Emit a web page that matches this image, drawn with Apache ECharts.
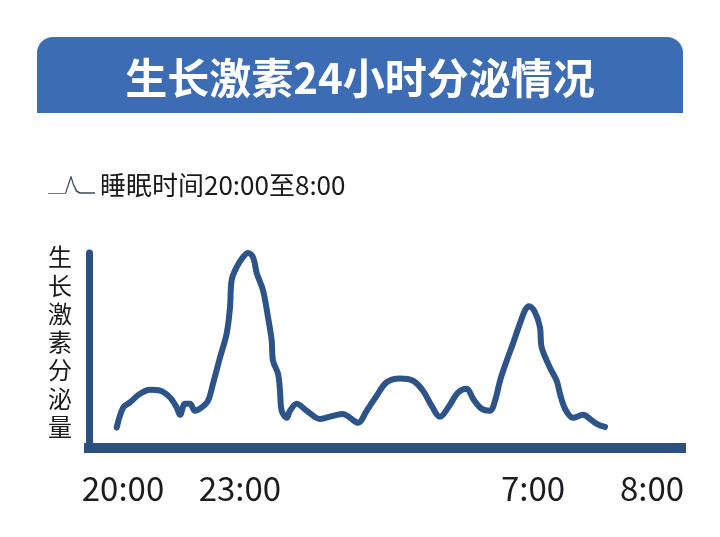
<!DOCTYPE html>
<html>
<head>
<meta charset="utf-8">
<script src="https://cdn.jsdelivr.net/npm/echarts@6/dist/echarts.min.js"></script>
<style>html,body{margin:0;padding:0;background:#fff}#c{width:720px;height:537px}</style>
</head>
<body>
<div id="c"></div>
<script>
// Position along the night (0-100 of axis length) and relative secretion level (0-100)
var xPos = [4.68,5.79,6.93,8.61,10.30,11.99,13.68,14.81,15.37,16.22,17.06,17.91,19.04,20.10,20.95,22.13,23.26,23.82,24.10,24.95,26.01,26.86,27.70,28.33,29.39,30.24,30.86,31.08,31.93,32.26,32.55,33.40,33.95,35.08,36.77,39.02,41.22,42.91,44.09,45.44,46.91,48.60,50.29,52.53,54.73,56.42,57.89,59.29,60.64,62.33,63.80,64.86,66.33,67.74,68.58,69.43,70.56,71.62,72.80,73.65,74.32,75.34,76.18,76.47,77.87,79.00,79.56,80.41,81.76,83.45,84.63,85.76,87.16];
var level = [10.5,20.8,23.4,27.8,29.9,29.4,25.9,20.8,17.0,22.7,22.7,19.1,20.8,24.2,33.0,46.4,58.8,72.2,86.1,92.8,97.9,100,97.9,89.7,80.9,67.0,55.2,44.8,38.1,29.4,19.1,15.5,19.1,22.7,19.1,14.9,16.5,17.5,15.5,12.9,19.1,26.8,33.7,35.6,34.5,29.4,21.6,16.0,20.6,28.4,30.4,25.3,20.1,19.1,24.2,34.5,44.8,53.6,63.9,70.6,72.7,69.6,61.9,51.5,41.2,34.5,27.8,20.1,15.5,17.0,14.9,12.4,10.8];
var tickPositions = [5.74, 25.5, 75.0, 95.1];
var tickLabels = ['20:00', '23:00', '7:00', '8:00'];
var titleText = '生长激素24小时分泌情况';
var seriesName = '睡眠时间20:00至8:00';
var yAxisTitle = '生长激素分泌量';

var data = xPos.map(function (x, i) { return [x, level[i]]; });
var chart = echarts.init(document.getElementById('c'), null, {renderer: 'canvas'});
var font = '"Noto Sans CJK SC", "Noto Sans", sans-serif';
var iconPath = 'path://M0,16.8 L17,16.8 L22.5,0 L23.5,0 L26,8 L29,14 L32,16 L47,16 L47,17.4 L31.5,17.4 L28,15.5 L25,9 L23,2.5 L18,17.4 L0,17.4 Z';
chart.setOption({
  backgroundColor: '#ffffff',
  animation: false,
  graphic: [
    {type: 'rect', left: 37, top: 37, z: 0,
     shape: {width: 646, height: 76, r: [16, 16, 0, 0]},
     style: {fill: '#3c6cb4'}},
    {type: 'text', left: 48, top: 243, z: 10,
     style: {text: yAxisTitle.split('').join('\n'), fill: '#1a1a1a',
       font: '24px ' + font, lineHeight: 28.3, align: 'left'}}
  ],
  title: {
    text: titleText, left: 'center', top: 52,
    textStyle: {color: '#ffffff', fontSize: 42, fontWeight: 'bold', fontFamily: font}
  },
  legend: {
    left: 48, top: 172, padding: 0, itemWidth: 47, itemHeight: 18, itemGap: 10,
    itemStyle: {color: '#3b4a5e'},
    textStyle: {color: '#1a1a1a', fontSize: 26, fontFamily: font, padding: [4, 0, 0, 0]},
    data: [{name: seriesName, icon: iconPath}]
  },
  grid: {left: 89, right: 39, top: 253, bottom: 89},
  xAxis: {
    type: 'value', min: 0, max: 100,
    splitLine: {show: false},
    axisTick: {show: false},
    axisLine: {show: true, lineStyle: {color: '#2c4f80', width: 10, cap: 'square'}},
    axisLabel: {
      customValues: tickPositions, margin: 24,
      color: '#1b1b22', fontSize: 33, fontFamily: font,
      formatter: function (v) {
        var best = 0;
        for (var i = 1; i < tickPositions.length; i++) {
          if (Math.abs(tickPositions[i] - v) < Math.abs(tickPositions[best] - v)) best = i;
        }
        return tickLabels[best];
      }
    }
  },
  yAxis: {
    type: 'value', min: 0, max: 100,
    splitLine: {show: false},
    axisTick: {show: false},
    axisLabel: {show: false},
    axisLine: {show: true, lineStyle: {color: '#2c4f80', width: 7, cap: 'round'}}
  },
  series: [{
    name: seriesName, type: 'line', data: data,
    smooth: 0.35, showSymbol: false, symbol: 'none',
    lineStyle: {color: '#2d5488', width: 6, cap: 'round', join: 'round'},
    itemStyle: {color: '#2d5488'}
  }]
});
</script>
</body>
</html>
